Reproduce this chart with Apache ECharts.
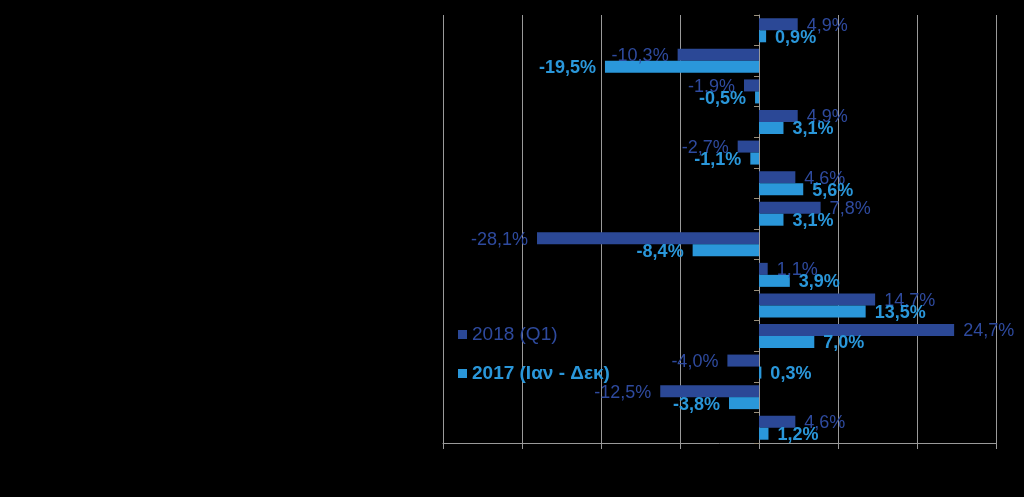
<!DOCTYPE html>
<html>
<head>
<meta charset="utf-8">
<script src="https://cdn.jsdelivr.net/npm/echarts@6/dist/echarts.min.js"></script>
<style>
html,body{margin:0;padding:0;background:#000;}
#c{width:1024px;height:497px;}
</style>
</head>
<body>
<div id="c"></div>
<script>
var categories = ['1','2','3','4','5','6','7','8','9','10','11','12','13','14'];
var seriesNames = ['2018 (Q1)', '2017 (Ιαν - Δεκ)'];
var values2018 = [4.9, -10.3, -1.9, 4.9, -2.7, 4.6, 7.8, -28.1, 1.1, 14.7, 24.7, -4.0, -12.5, 4.6];
var values2017 = [0.9, -19.5, -0.5, 3.1, -1.1, 5.6, 3.1, -8.4, 3.9, 13.5, 7.0, 0.3, -3.8, 1.2];

var darkColor = '#2B4896';
var darkText = '#2E4A9E';
var lightColor = '#2A97DA';
var FONT = '"Liberation Sans", Arial, sans-serif';
var FS = 18;
var LFS = 19;

function fmt(p) {
  return p.value.toFixed(1).replace('.', ',') + '%';
}
function toData(arr) {
  return arr.map(function (v) {
    return { value: v, label: { position: v < 0 ? 'left' : 'right' } };
  });
}

var chart = echarts.init(document.getElementById('c'));
chart.setOption({
  backgroundColor: '#000',
  animation: false,
  grid: { left: 443, right: 28, top: 15, bottom: 54, containLabel: false },
  legend: {
    orient: 'vertical',
    left: 453,
    top: 320,
    itemWidth: 9,
    itemHeight: 9,
    itemGap: 20,
    icon: 'rect',
    data: [
      { name: seriesNames[0], textStyle: { color: darkText, fontSize: LFS, fontFamily: FONT, fontWeight: 'normal' } },
      { name: seriesNames[1], textStyle: { color: lightColor, fontSize: LFS, fontFamily: FONT, fontWeight: 'bold' } }
    ]
  },
  xAxis: {
    type: 'value',
    min: -40,
    max: 30,
    interval: 10,
    axisLabel: { show: false },
    axisLine: { show: true, lineStyle: { color: '#9a9a9a', width: 1 } },
    axisTick: { show: true, length: 6, lineStyle: { color: '#9a9a9a' } },
    splitLine: { show: true, lineStyle: { color: '#9a9a9a', width: 1 } }
  },
  yAxis: {
    type: 'category',
    data: categories,
    inverse: true,
    axisLabel: { show: false },
    axisLine: { show: true, onZero: true, lineStyle: { color: '#9a9a9a', width: 1 } },
    axisTick: { show: true, length: 5, lineStyle: { color: '#9a8f7a' } },
    splitLine: { show: false }
  },
  series: [
    {
      name: seriesNames[0],
      type: 'bar',
      barWidth: 12,
      barGap: '0%',
      itemStyle: { color: darkColor },
      label: {
        show: true,
        distance: 9,
        offset: [0, 1.5],
        formatter: fmt,
        color: darkText,
        fontSize: FS,
        fontFamily: FONT,
        fontWeight: 'normal'
      },
      data: toData(values2018)
    },
    {
      name: seriesNames[1],
      type: 'bar',
      barWidth: 12,
      barGap: '0%',
      itemStyle: { color: lightColor },
      label: {
        show: true,
        distance: 9,
        offset: [0, 1.5],
        formatter: fmt,
        color: lightColor,
        fontSize: FS,
        fontFamily: FONT,
        fontWeight: 'bold'
      },
      data: toData(values2017)
    }
  ]
});
</script>
</body>
</html>
